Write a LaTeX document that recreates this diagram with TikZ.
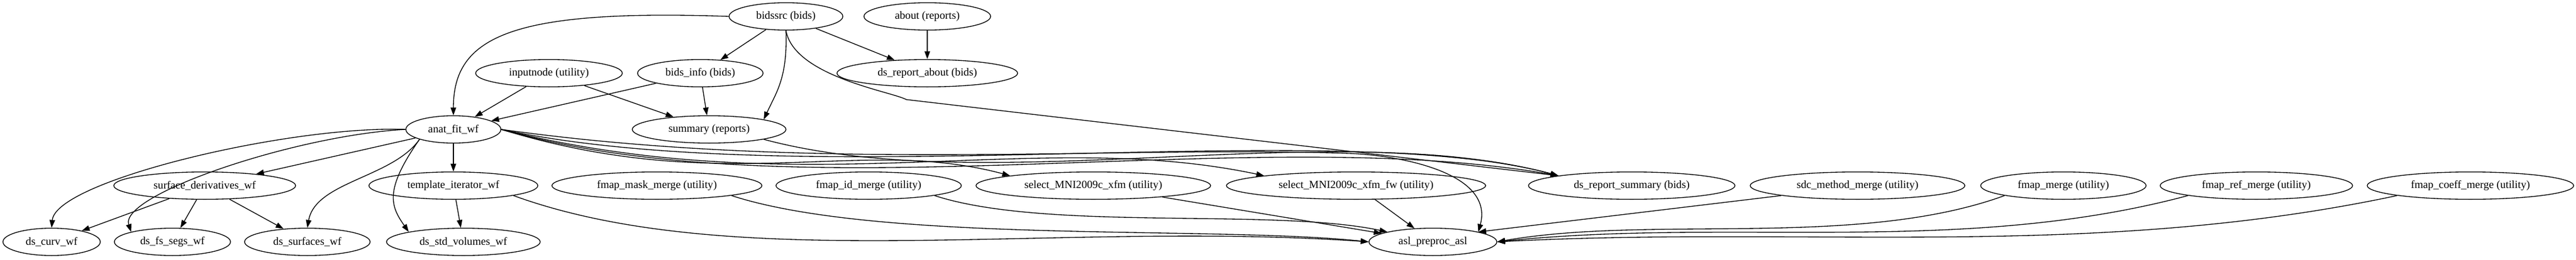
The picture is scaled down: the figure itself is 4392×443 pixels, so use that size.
\documentclass[tikz,border=0pt]{standalone}
\usepackage{fontspec}
\setmainfont{Liberation Serif}
\usetikzlibrary{shapes.geometric,arrows.meta}
\begin{document}
\begin{tikzpicture}[x=0.75pt,y=-0.75pt,
  nd/.style={draw,ellipse,line width=1pt,inner sep=0pt,minimum height=35pt,minimum width=#1*1.5pt,font=\fontsize{14pt}{16pt}\selectfont},
  ed/.style={draw,line width=1pt,-{Triangle[length=10pt,width=7pt]}}]
\useasboundingbox (0,0) rectangle (4392,443);
\node[nd=97] (bidssrc) at (1340,28) {bidssrc (bids)};
\node[nd=108] (about) at (1581,28) {about (reports)};
\node[nd=125] (inputnode) at (936,125) {inputnode (utility)};
\node[nd=107] (bidsinfo) at (1194,125) {bids\_info (bids)};
\node[nd=154] (dsabout) at (1581,125) {ds\_report\_about (bids)};
\node[nd=81] (anat) at (773,221) {anat\_fit\_wf};
\node[nd=131] (summary) at (1209,221) {summary (reports)};
\node[nd=155] (surf) at (349,317) {surface\_derivatives\_wf};
\node[nd=144] (templ) at (773,317) {template\_iterator\_wf};
\node[nd=179] (mask) at (1120,317) {fmap\_mask\_merge (utility)};
\node[nd=158] (idm) at (1481,317) {fmap\_id\_merge (utility)};
\node[nd=200] (sel) at (1864,317) {select\_MNI2009c\_xfm (utility)};
\node[nd=221] (selfw) at (2312,317) {select\_MNI2009c\_xfm\_fw (utility)};
\node[nd=176] (dssum) at (2782,317) {ds\_report\_summary (bids)};
\node[nd=183] (sdc) at (3167,317) {sdc\_method\_merge (utility)};
\node[nd=141] (fmerge) at (3518,317) {fmap\_merge (utility)};
\node[nd=164] (fref) at (3847,317) {fmap\_ref\_merge (utility)};
\node[nd=176] (fcoeff) at (4212,317) {fmap\_coeff\_merge (utility)};
\node[nd=83] (curv) at (88,413) {ds\_curv\_wf};
\node[nd=99] (segs) at (294,413) {ds\_fs\_segs\_wf};
\node[nd=107] (surfs) at (524,413) {ds\_surfaces\_wf};
\node[nd=131] (stdv) at (790,413) {ds\_std\_volumes\_wf};
\node[nd=109] (asl) at (2443,413) {asl\_preproc\_asl};
\coordinate (k1) at (1545,170);
\coordinate (k2) at (2300,262);

\path[ed] (bidssrc.west) .. controls +(178:280pt) and +(90:100pt) .. (anat.north);
\path[ed] (bidssrc) -- (bidsinfo);
\path[ed] (bidssrc.south) .. controls +(-88:60pt) and +(65:40pt) .. (summary.north east);
\path[ed] (bidssrc) -- (dsabout);
\path[ed] (bidssrc.south) .. controls +(-80:60pt) and +(150:20pt) .. (k1) -- (dssum.north west);
\path[ed] (about) -- (dsabout);
\path[ed] (inputnode) -- (anat);
\path[ed] (inputnode) -- (summary);
\path[ed] (bidsinfo) -- (anat);
\path[ed] (bidsinfo) -- (summary);
\path[ed] (summary.south east) .. controls +(-15:300pt) and +(165:300pt) .. (dssum.north west);
\path[ed] (anat.east) .. controls +(-8:400pt) and +(178:300pt) .. (k2) .. controls +(-2:60pt) and +(75:80pt) .. (asl.north east);
\path[ed] (anat.east) .. controls +(-12:400pt) and +(165:300pt) .. (dssum.north west);
\path[ed] (anat.east) .. controls +(-16:400pt) and +(170:400pt) .. (dssum.north west);
\path[ed] (anat.east) .. controls +(-17:300pt) and +(165:200pt) .. (sel.north west);
\path[ed] (anat.east) .. controls +(-14:400pt) and +(168:300pt) .. (selfw.north west);
\path[ed] (anat) -- (surf);
\path[ed] (anat) -- (templ);
\path[ed] (anat.west) .. controls +(178:150pt) and +(85:60pt) .. (curv.north);
\path[ed] (anat.west) .. controls +(183:140pt) and +(108:50pt) .. (segs.north west);
\path[ed] (anat.south west) .. controls +(235:60pt) and +(80:60pt) .. (surfs.north);
\path[ed] (anat.south west) .. controls +(235:80pt) and +(125:40pt) .. (stdv.north west);
\path[ed] (surf) -- (curv);
\path[ed] (surf) -- (segs);
\path[ed] (surf) -- (surfs);
\path[ed] (templ) -- (stdv);
\path[ed] (templ.south east) .. controls +(-20:300pt) and +(176:400pt) .. (asl.west);
\path[ed] (mask.south east) .. controls +(-18:200pt) and +(174:200pt) .. (asl.west);
\path[ed] (idm.south east) .. controls +(-18:150pt) and +(168:150pt) .. (asl.north west);
\path[ed] (sel) -- (asl);
\path[ed] (selfw) -- (asl);
\path[ed] (sdc.south west) -- (asl.north east);
\path[ed] (fmerge.south west) .. controls +(-160:200pt) and +(10:200pt) .. (asl.east);
\path[ed] (fref.south west) .. controls +(-165:300pt) and +(6:300pt) .. (asl.east);
\path[ed] (fcoeff.south west) .. controls +(-168:400pt) and +(3:400pt) .. (asl.east);
\end{tikzpicture}
\end{document}
